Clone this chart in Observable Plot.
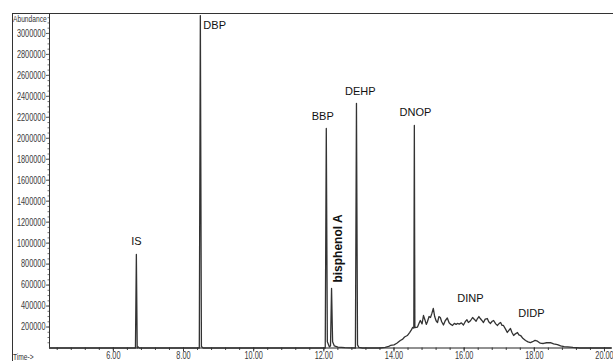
<!DOCTYPE html>
<html>
<head>
<meta charset="utf-8">
<script src="https://cdn.jsdelivr.net/npm/d3@7"></script>
<script src="https://cdn.jsdelivr.net/npm/@observablehq/plot@0.6"></script>
<style>
  html, body { margin: 0; padding: 0; background: #fff; }
  #chart svg { display: block; }
</style>
</head>
<body>
<div id="chart"></div>
<script>
// Retention time (min) and abundance of the chromatogram trace
const times = [
  4.18, 6.63, 6.656, 6.68, 6.71, 6.74,
  8.45, 8.48, 8.51, 8.56,
  12.04, 12.07, 12.10, 12.16, 12.19, 12.22, 12.25, 12.30, 12.40, 12.60,
  12.90, 12.93, 12.96, 13.00, 13.10,
  13.60, 13.75, 13.85, 13.90, 14.00, 14.08, 14.18, 14.25, 14.30, 14.38, 14.45, 14.50, 14.53,
  14.565, 14.58, 14.595,
  14.67, 14.72, 14.75, 14.80, 14.84, 14.88, 14.92, 14.95, 15.00, 15.04, 15.08, 15.12, 15.16,
  15.20, 15.24, 15.28, 15.32, 15.36, 15.41, 15.46, 15.52, 15.57, 15.62, 15.67, 15.72, 15.77,
  15.81, 15.86, 15.92, 15.98, 16.03, 16.08, 16.12, 16.18, 16.24, 16.30, 16.34, 16.38, 16.42,
  16.46, 16.50, 16.55, 16.60, 16.66, 16.70, 16.75, 16.80, 16.84, 16.90, 16.95, 17.00, 17.04,
  17.08, 17.12, 17.18, 17.23, 17.28, 17.32, 17.36, 17.41, 17.46, 17.52, 17.56, 17.61, 17.68,
  17.75, 17.82, 17.89, 17.95, 18.02, 18.09, 18.15, 18.20, 18.26, 18.35, 18.46, 18.55, 18.66,
  18.75, 18.85, 18.95, 19.10, 19.30, 20.20
];
const abundance = [
  0, 0, 892000, 0, 10000, 0,
  0, 3170000, 15000, 0,
  0, 2094000, 60000, 10000, 20000, 568000, 60000, 20000, 8000, 3000,
  0, 2333000, 30000, 5000, 0,
  0, 5000, 15000, 24000, 30000, 45000, 72000, 85000, 105000, 119000, 150000, 175000, 196000,
  190000, 2123000, 195000,
  200000, 240000, 262000, 230000, 310000, 270000, 225000, 248000, 300000, 291000, 330000, 377000, 300000,
  260000, 243000, 300000, 291000, 250000, 219000, 260000, 286000, 240000, 225000, 215000, 235000, 225000,
  234000, 228000, 240000, 219000, 250000, 270000, 243000, 260000, 291000, 270000, 255000, 281000, 300000,
  281000, 265000, 243000, 275000, 281000, 250000, 234000, 255000, 262000, 230000, 215000, 235000, 243000,
  215000, 215000, 180000, 148000, 170000, 186000, 150000, 119000, 135000, 148000, 125000, 119000, 90000,
  72000, 58000, 52000, 60000, 72000, 65000, 50000, 45000, 43000, 50000, 52000, 40000, 33000,
  20000, 14000, 10000, 5000, 0, 0
];

// Peak annotations (label anchor in data units)
const labelNames = ["IS", "BBP", "DEHP", "DNOP", "DINP", "DIDP"];
const labelTimes = [6.656, 11.97, 13.04, 14.61, 16.18, 17.92];
const labelAbundance = [1016000, 2209000, 2447000, 2247000, 472000, 329000];

const startLabelNames = ["DBP"];
const startLabelTimes = [8.566];
const startLabelAbundance = [3077000];

const bpaName = ["bisphenol A"];
const bpaTime = [12.42];
const bpaAbundance = [949000];

// Axis ticks
const xMajor = [6, 8, 10, 12, 14, 16, 18, 20];
const xMinor = d3.range(4.4, 20.2, 0.4);
const yMajor = d3.range(200000, 3000001, 200000);
const yMinor = d3.range(50000, 3150001, 50000);

const trace = times.map((t, i) => ({ t, a: abundance[i] }));
const labels = labelNames.map((n, i) => ({ n, t: labelTimes[i], a: labelAbundance[i] }));
const startLabels = startLabelNames.map((n, i) => ({ n, t: startLabelTimes[i], a: startLabelAbundance[i] }));
const bpa = bpaName.map((n, i) => ({ n, t: bpaTime[i], a: bpaAbundance[i] }));

const tickFont = "'Liberation Sans', Arial, sans-serif";
const labelFont = "'Liberation Sans', Arial, sans-serif";

const chart = Plot.plot({
  width: 613,
  height: 361,
  marginLeft: 49,
  marginRight: 2,
  marginTop: 13,
  marginBottom: 13.5,
  style: { fontFamily: tickFont, fontSize: "10.5px", color: "#333", background: "#fff" },
  x: { domain: [4.18, 20.2], label: null },
  y: { domain: [0, 3190000], label: null },
  marks: [
    Plot.axisY({ ticks: yMajor, tickSize: 3, tickPadding: 1, tickFormat: d => String(d), label: null, stroke: "#555", fill: "#3a3a3a" }),
    Plot.axisY({ ticks: yMinor, tickSize: 1.5, text: null, label: null, stroke: "#777" }),
    Plot.axisX({ ticks: xMajor, tickSize: 4, tickPadding: 0, tickFormat: d3.format(".2f"), label: null, stroke: "#333", fill: "#3a3a3a" }),
    Plot.axisX({ ticks: xMinor, tickSize: 2.5, text: null, label: null, stroke: "#444" }),
    Plot.ruleX([4.18], { stroke: "#333" }),
    Plot.ruleY([0], { stroke: "#222" }),
    Plot.line(trace, { x: "t", y: "a", stroke: "#333", strokeWidth: 1.3 }),
    Plot.text(labels, { x: "t", y: "a", text: "n", textAnchor: "middle", fontFamily: labelFont, fontSize: 11, fill: "#111" }),
    Plot.text(startLabels, { x: "t", y: "a", text: "n", textAnchor: "start", fontFamily: labelFont, fontSize: 11, fill: "#111" }),
    Plot.text(bpa, { x: "t", y: "a", text: "n", rotate: -90, fontFamily: labelFont, fontWeight: "bold", fontSize: 12, fill: "#111" })
  ]
});

document.getElementById("chart").appendChild(chart);

const svg = d3.select(chart);
svg.append("line").attr("x1", 12).attr("x2", 613).attr("y1", 13.5).attr("y2", 13.5).attr("stroke", "#333");
svg.append("line").attr("x1", 12.5).attr("x2", 12.5).attr("y1", 13).attr("y2", 361).attr("stroke", "#333");
svg.append("text").attr("class", "narrow").attr("x", 13).attr("y", 21.5).attr("text-anchor", "start")
  .attr("font-size", 9.5).attr("font-family", tickFont).attr("fill", "#333").text("Abundance");
svg.append("text").attr("class", "narrow").attr("x", 13).attr("y", 359.5).attr("text-anchor", "start")
  .attr("font-size", 9.5).attr("font-family", tickFont).attr("fill", "#333").text("Time->");

// condense tick label glyphs like the instrument software's narrow font
svg.selectAll('g[aria-label="y-axis tick label"] text, g[aria-label="x-axis tick label"] text, text.narrow')
  .each(function () {
    const w = this.getComputedTextLength();
    this.setAttribute("textLength", (w * 0.7).toFixed(1));
    this.setAttribute("lengthAdjust", "spacingAndGlyphs");
  });
</script>
</body>
</html>
